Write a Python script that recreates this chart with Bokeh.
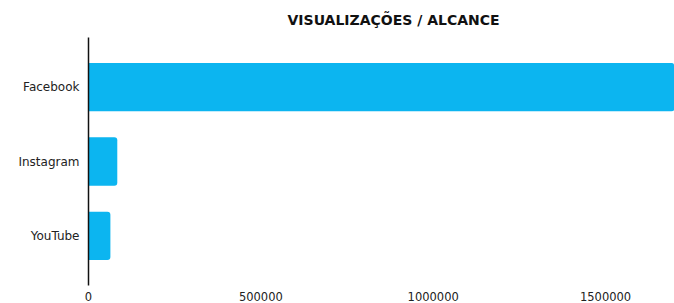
from bokeh.plotting import figure
from bokeh.models import Range1d, FactorRange
from bokeh.embed import file_html
from bokeh.resources import INLINE

platforms = ["Facebook", "Instagram", "YouTube"]
views = [1900000, 83500, 63500]
x_ticks = [0, 500000, 1000000, 1500000]
title_text = "VISUALIZAÇÕES / ALCANCE"

y_range = FactorRange(factors=list(reversed(platforms)), range_padding=0.113,
                      range_padding_units="percent")

p = figure(width=674, height=303, output_backend="svg", toolbar_location=None,
           y_range=y_range, x_range=Range1d(0, 1700000),
           min_border_left=88, min_border_right=0, min_border_top=36,
           min_border_bottom=0, title=title_text)

p.hbar(y=platforms, right=views, left=0, height=0.65, color="#0cb5f0",
       line_color=None, border_radius=(0, 3, 3, 0))

p.title.align = "left"
p.title.offset = 199
p.title.standoff = 19
p.title.text_font = "DejaVu Sans"
p.title.text_font_size = "14px"
p.title.text_font_style = "bold"
p.title.text_color = "#111111"

p.outline_line_color = None
p.xgrid.grid_line_color = None
p.ygrid.grid_line_color = None

p.xaxis.ticker = x_ticks
p.xaxis.axis_line_color = None
p.xaxis.major_tick_line_color = None
p.xaxis.minor_tick_line_color = None
p.xaxis.major_label_text_font = "DejaVu Sans"
p.xaxis.major_label_text_font_size = "11.5px"
p.xaxis.major_label_text_color = "#222222"
p.xaxis.major_label_standoff = 0
p.xaxis.formatter.use_scientific = False

p.yaxis.axis_line_color = "#111111"
p.yaxis.axis_line_width = 1.5
p.yaxis.major_tick_line_color = None
p.yaxis.minor_tick_line_color = None
p.yaxis.major_label_text_font = "DejaVu Sans"
p.yaxis.major_label_text_font_size = "12px"
p.yaxis.major_label_text_color = "#222222"
p.yaxis.major_label_standoff = 3

open("out.html", "w").write(file_html(p, INLINE))
